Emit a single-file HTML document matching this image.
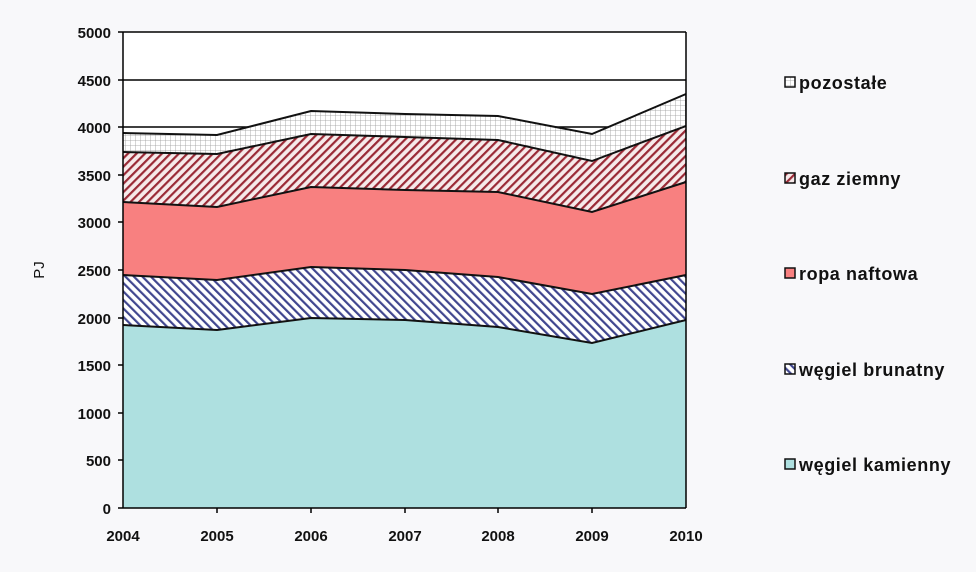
<!DOCTYPE html>
<html><head><meta charset="utf-8"><style>
body{margin:0;background:#f8f8fa;width:976px;height:567px;overflow:hidden}
text{font-family:"Liberation Sans",sans-serif;font-weight:bold;font-size:15px;fill:#111}
.lg{font-size:18px;letter-spacing:0.6px}
</style></head><body>
<svg width="976" height="567" xmlns="http://www.w3.org/2000/svg">
<defs>
<pattern id="grid" width="5" height="5" patternUnits="userSpaceOnUse"><rect width="5" height="5" fill="#fff"/><path d="M0 0H5M0 0V5" stroke="#999" stroke-width="0.8"/></pattern>
<pattern id="gaz" width="6" height="6" patternUnits="userSpaceOnUse" patternTransform="rotate(45)"><rect width="6" height="6" fill="#f6eaea"/><rect width="2.2" height="6" fill="#9a2a36"/></pattern>
<pattern id="bru" width="6" height="6" patternUnits="userSpaceOnUse" patternTransform="rotate(-45)"><rect width="6" height="6" fill="#fff"/><rect width="2.2" height="6" fill="#40468f"/></pattern>
</defs>
<rect x="123" y="32" width="563" height="476" fill="#fff"/>
<g stroke="#000" stroke-width="1.5">
<line x1="123" y1="32" x2="686" y2="32"/><line x1="123" y1="80" x2="686" y2="80"/><line x1="123" y1="127" x2="686" y2="127"/>
</g>
<polygon fill="url(#grid)" points="123,133 217,135 311,111 405,114 498,116 592,134 686,94 686,126 592,161 498,140 405,137 311,134 217,154 123,152"/>
<polygon fill="url(#gaz)" points="123,152 217,154 311,134 405,137 498,140 592,161 686,126 686,182 592,212 498,192 405,190 311,187 217,207 123,202"/>
<polygon fill="#f88080" points="123,202 217,207 311,187 405,190 498,192 592,212 686,182 686,275 592,294 498,277 405,270 311,267 217,280 123,275"/>
<polygon fill="url(#bru)" points="123,275 217,280 311,267 405,270 498,277 592,294 686,275 686,320 592,343 498,327 405,320 311,318 217,330 123,325"/>
<polygon fill="#aee0e0" points="123,325 217,330 311,318 405,320 498,327 592,343 686,320 686,508 123,508"/>
<g fill="none" stroke="#111" stroke-width="2">
<polyline points="123,133 217,135 311,111 405,114 498,116 592,134 686,94"/>
<polyline points="123,152 217,154 311,134 405,137 498,140 592,161 686,126"/>
<polyline points="123,202 217,207 311,187 405,190 498,192 592,212 686,182"/>
<polyline points="123,275 217,280 311,267 405,270 498,277 592,294 686,275"/>
<polyline points="123,325 217,330 311,318 405,320 498,327 592,343 686,320"/>
</g>
<g stroke="#000" stroke-width="1.5">
<line x1="123" y1="32" x2="123" y2="508"/><line x1="686" y1="32" x2="686" y2="508"/><line x1="118" y1="508" x2="686" y2="508"/>
<line x1="118" y1="32" x2="123" y2="32"/><line x1="118" y1="80" x2="123" y2="80"/><line x1="118" y1="127" x2="123" y2="127"/><line x1="118" y1="175" x2="123" y2="175"/><line x1="118" y1="222" x2="123" y2="222"/><line x1="118" y1="270" x2="123" y2="270"/><line x1="118" y1="318" x2="123" y2="318"/><line x1="118" y1="365" x2="123" y2="365"/><line x1="118" y1="413" x2="123" y2="413"/><line x1="118" y1="460" x2="123" y2="460"/>
<line x1="217" y1="508" x2="217" y2="513"/><line x1="311" y1="508" x2="311" y2="513"/><line x1="405" y1="508" x2="405" y2="513"/><line x1="498" y1="508" x2="498" y2="513"/><line x1="592" y1="508" x2="592" y2="513"/>
</g>
<g text-anchor="end">
<text x="111" y="38">5000</text><text x="111" y="86">4500</text><text x="111" y="133">4000</text><text x="111" y="181">3500</text><text x="111" y="228">3000</text><text x="111" y="276">2500</text><text x="111" y="324">2000</text><text x="111" y="371">1500</text><text x="111" y="419">1000</text><text x="111" y="466">500</text><text x="111" y="514">0</text>
</g>
<g text-anchor="middle">
<text x="123" y="541">2004</text><text x="217" y="541">2005</text><text x="311" y="541">2006</text><text x="405" y="541">2007</text><text x="498" y="541">2008</text><text x="592" y="541">2009</text><text x="686" y="541">2010</text>
</g>
<text transform="translate(44,270) rotate(-90)" text-anchor="middle" style="font-weight:normal">PJ</text>
<g stroke="#111" stroke-width="1.5">
<rect x="785" y="77" width="10" height="10" fill="url(#grid)"/>
<rect x="785" y="173" width="10" height="10" fill="url(#gaz)"/>
<rect x="785" y="268" width="10" height="10" fill="#f88080"/>
<rect x="785" y="364" width="10" height="10" fill="url(#bru)"/>
<rect x="785" y="459" width="10" height="10" fill="#aee0e0"/>
</g>
<text class="lg" x="799" y="89">pozostałe</text>
<text class="lg" x="799" y="185">gaz ziemny</text>
<text class="lg" x="799" y="280">ropa naftowa</text>
<text class="lg" x="799" y="376">węgiel brunatny</text>
<text class="lg" x="799" y="471">węgiel kamienny</text>
</svg>
</body></html>
